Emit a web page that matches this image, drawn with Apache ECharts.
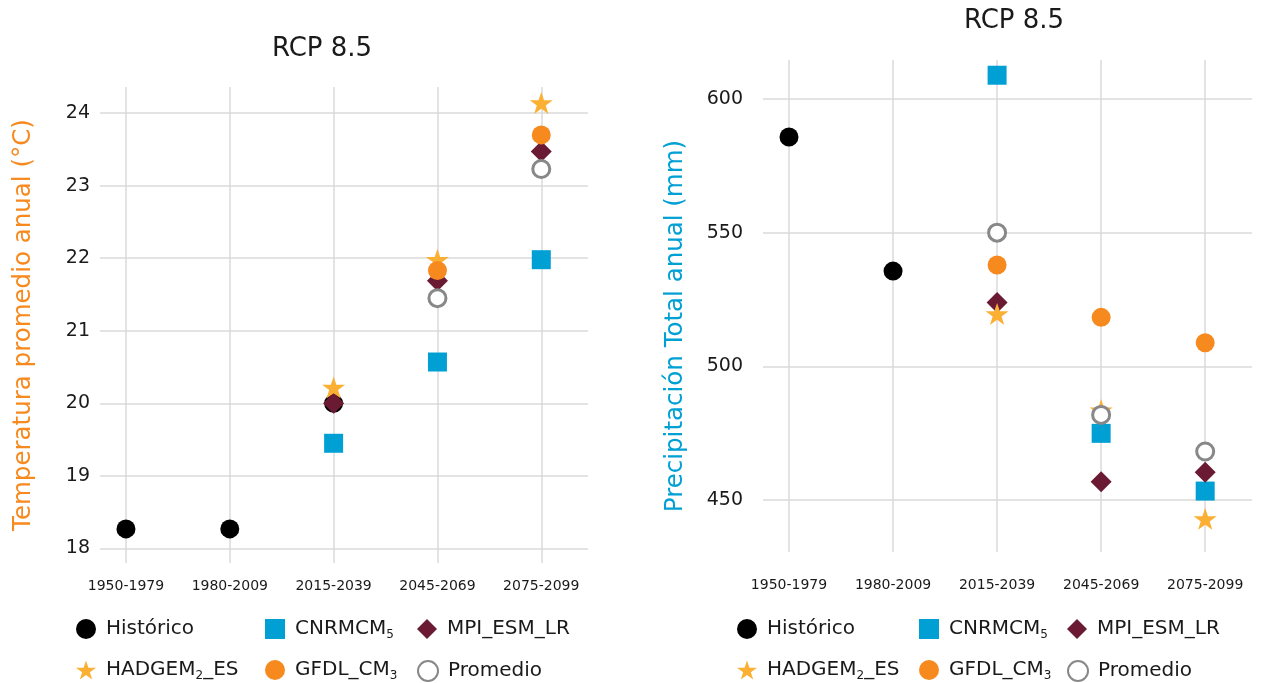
<!DOCTYPE html>
<html>
<head>
<meta charset="utf-8">
<script src="https://cdn.jsdelivr.net/npm/echarts@6.0.0/dist/echarts.min.js"></script>
<style>
  html, body { margin: 0; padding: 0; background: #fff; }
  #main { width: 1263px; height: 683px; }
</style>
</head>
<body>
<div id="main"></div>
<script>
// periodos (eje x)
var periods = ['1950-1979', '1980-2009', '2015-2039', '2045-2069', '2075-2099'];

// temperatura promedio anual (°C)
var tempHist   = [18.27, 18.27, 20.0, null, null];
var tempCnrm   = [null, null, 19.45, 20.57, 21.98];
var tempMpi    = [null, null, 20.0, 21.69, 23.47];
var tempHadgem = [null, null, 20.22, 21.98, 24.14];
var tempGfdl   = [null, null, null, 21.83, 23.70];
var tempProm   = [null, null, null, 21.45, 23.23];

// precipitación total anual (mm)
var precHist   = [585.8, 535.6, null, null, null];
var precCnrm   = [null, null, 608.9, 474.9, 453.3];
var precMpi    = [null, null, 523.9, 456.8, 460.3];
var precHadgem = [null, null, 519.6, 483.6, 442.9];
var precGfdl   = [null, null, 537.9, 518.3, 508.8];
var precProm   = [null, null, 550.0, 481.8, 468.1];

var FONT = 'DejaVu Sans';
var STAR = 'path://M50,0 L61.8,35.1 L98.9,35.1 L68.9,56.8 L80.3,91.9 L50,70.2 L19.7,91.9 L31.1,56.8 L1.1,35.1 L38.2,35.1 Z';

var styles = {
  'Histórico':  { symbol: 'circle',  symbolSize: 19, itemStyle: { color: '#000000', opacity: 1 } },
  'CNRMCM5':    { symbol: 'rect',    symbolSize: 19, itemStyle: { color: '#00a0d4', opacity: 1 } },
  'MPI_ESM_LR': { symbol: 'diamond', symbolSize: 21, itemStyle: { color: '#6a1b33', opacity: 1 } },
  'HADGEM2_ES': { symbol: STAR,      symbolSize: [23, 22], itemStyle: { color: '#fbb034', opacity: 1 } },
  'GFDL_CM3':   { symbol: 'circle',  symbolSize: 19, itemStyle: { color: '#f68a1f', opacity: 1 } },
  'Promedio':   { symbol: 'circle',  symbolSize: 17, itemStyle: { color: '#ffffff', borderColor: '#888888', borderWidth: 3, opacity: 1 } }
};

function pts(arr) {
  var out = [];
  arr.forEach(function (v, i) { if (v != null) out.push([i + 1, v]); });
  return out;
}

function mk(name, arr, idx) {
  var s = styles[name];
  return {
    name: name, type: 'scatter', xAxisIndex: idx, yAxisIndex: idx,
    symbol: s.symbol, symbolSize: s.symbolSize, itemStyle: s.itemStyle,
    data: pts(arr), emphasis: { disabled: true }
  };
}

function xAx(idx, margin) {
  return {
    type: 'value', gridIndex: idx, min: 0.75, max: 5.45, splitNumber: 5,
    axisLine: { show: false }, axisTick: { show: false },
    splitLine: { show: true, showMinLine: false, showMaxLine: false, lineStyle: { color: '#dadada', width: 1.5 } },
    axisLabel: {
      margin: margin, fontSize: 14, color: '#1a1a1a', fontFamily: FONT,
      formatter: function (v) { return Number.isInteger(v) ? periods[v - 1] : ''; }
    }
  };
}

function yAx(idx, min, max, split, name, color, gap, margin, pad) {
  return {
    type: 'value', gridIndex: idx, min: min, max: max, splitNumber: split,
    name: name, nameLocation: 'middle', nameGap: gap,
    nameTextStyle: { color: color, fontSize: 24.5, fontFamily: FONT, padding: pad },
    axisLine: { show: false }, axisTick: { show: false },
    splitLine: { show: true, showMinLine: false, showMaxLine: false, lineStyle: { color: '#dadada', width: 1.5 } },
    axisLabel: {
      margin: margin, fontSize: 19, color: '#1a1a1a', fontFamily: FONT,
      formatter: function (v) { return (v % 1 === 0) ? String(v) : ''; }
    }
  };
}

var legendNames = {
  'Histórico': 'Histórico',
  'CNRMCM5': 'CNRMCM{s|5}',
  'MPI_ESM_LR': 'MPI_ESM_LR',
  'HADGEM2_ES': 'HADGEM{s|2}_ES',
  'GFDL_CM3': 'GFDL_CM{s|3}',
  'Promedio': 'Promedio'
};

// one legend per item, placed in a 3 x 2 block under each chart
function leg(name, left, top) {
  return {
    left: left, top: top, padding: 0, itemWidth: 20, itemHeight: 20, selectedMode: false, data: [name],
    formatter: function (n) { return legendNames[n]; },
    textStyle: {
      fontSize: 20, color: '#1a1a1a', fontFamily: FONT, padding: [0, 0, 0, 5],
      rich: { s: { fontSize: 12, color: '#1a1a1a', fontFamily: FONT, padding: [11, 0, 0, 0] } }
    }
  };
}

var chart = echarts.init(document.getElementById('main'));
chart.setOption({
  animation: false,
  textStyle: { fontFamily: FONT },
  title: [
    { text: 'RCP 8.5', left: 322, top: 36, textAlign: 'center', padding: 0,
      textStyle: { fontSize: 26, fontWeight: 'normal', color: '#1a1a1a', fontFamily: FONT } },
    { text: 'RCP 8.5', left: 1014, top: 8, textAlign: 'center', padding: 0,
      textStyle: { fontSize: 26, fontWeight: 'normal', color: '#1a1a1a', fontFamily: FONT } }
  ],
  grid: [
    { left: 100, top: 87, width: 488, height: 476 },
    { left: 763, top: 60, width: 489, height: 492 }
  ],
  xAxis: [xAx(0, 16), xAx(1, 26)],
  yAxis: [
    yAx(0, 17.8, 24.36, 6, 'Temperatura promedio anual (°C)', '#f68a1f', 64, 10, [0, 0, 0, 0]),
    yAx(1, 430.5, 614.6, 4, 'Precipitación Total anual (mm)', '#00a0d4', 75, 20, [0, 40, 0, 0])
  ],
  legend: [
    leg('Histórico', 76, 619), leg('CNRMCM5', 265, 619), leg('MPI_ESM_LR', 417, 619),
    leg('HADGEM2_ES', 76, 660), leg('GFDL_CM3', 265, 660), leg('Promedio', 417, 660),
    leg('Histórico', 737, 619), leg('CNRMCM5', 919, 619), leg('MPI_ESM_LR', 1067, 619),
    leg('HADGEM2_ES', 737, 660), leg('GFDL_CM3', 919, 660), leg('Promedio', 1067, 660)
  ],
  series: [
    mk('Histórico', tempHist, 0),
    mk('CNRMCM5', tempCnrm, 0),
    mk('MPI_ESM_LR', tempMpi, 0),
    mk('HADGEM2_ES', tempHadgem, 0),
    mk('GFDL_CM3', tempGfdl, 0),
    mk('Promedio', tempProm, 0),
    mk('Histórico', precHist, 1),
    mk('CNRMCM5', precCnrm, 1),
    mk('MPI_ESM_LR', precMpi, 1),
    mk('HADGEM2_ES', precHadgem, 1),
    mk('GFDL_CM3', precGfdl, 1),
    mk('Promedio', precProm, 1)
  ]
});
</script>
</body>
</html>
